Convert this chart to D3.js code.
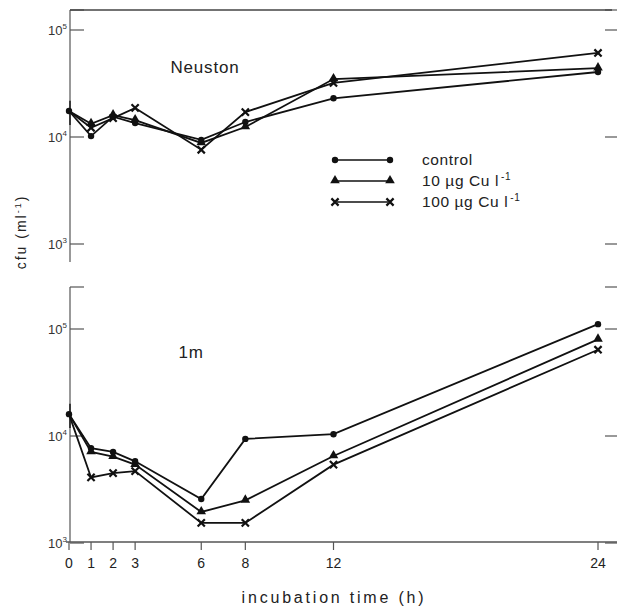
<!doctype html>
<html lang="en">
<head>
    <meta charset="utf-8">
    <title>cfu incubation</title>
    <style>
        body { margin: 0; background: #fff; }
        svg { display: block; }
        text { font-family: "Liberation Sans", Arial, sans-serif; fill: #222; }
    </style>
</head>
<body>
<svg width="617" height="609"></svg>
<script src="https://d3js.org/d3.v7.min.js"></script>
<script>
    // hours of incubation
    var hours = [0, 1, 2, 3, 6, 8, 12, 24];
    var xTicks = [0, 1, 2, 3, 6, 8, 12, 24];
    var yTicks = [1e3, 1e4, 1e5];
    var seriesNames = ["control", "10 µg Cu l", "100 µg Cu l"];

    // Neuston (cfu per ml)
    var neustonControl = [17500, 10200, 15500, 13500, 9400, 13800, 23000, 40500];
    var neuston10 = [17500, 13300, 16000, 14400, 8800, 12400, 34800, 44000];
    var neuston100 = [17500, 12200, 15000, 18700, 7600, 17100, 32000, 61000];

    // 1 m depth (cfu per ml)
    var m1Control = [16000, 7700, 7100, 5800, 2580, 9400, 10400, 111000];
    var m1_10 = [16000, 7100, 6400, 5400, 1950, 2500, 6500, 80000];
    var m1_100 = [16000, 4100, 4500, 4700, 1540, 1540, 5400, 64000];

    var svg = d3.select("svg");
    var x = d3.scaleLinear().domain([0, 24]).range([69, 598]);

    var panels = [
        { label: "Neuston", lx: 205, ly: 73, top: 10, bottom: 262, y10k: 137,
          data: [neustonControl, neuston10, neuston100] },
        { label: "1m", lx: 191, ly: 358, top: 287, bottom: 542, y10k: 436,
          data: [m1Control, m1_10, m1_100] }
    ];

    var decade = 107;
    var axisX = 70;

    function marker(g, kind, cx, cy) {
        if (kind === 0) {
            g.append("circle").attr("cx", cx).attr("cy", cy).attr("r", 3.2).attr("fill", "#111");
        } else if (kind === 1) {
            g.append("path")
                .attr("d", d3.symbol().type(d3.symbolTriangle).size(40)())
                .attr("transform", "translate(" + cx + "," + (cy - 0.5) + ")")
                .attr("fill", "#111");
        } else {
            var s = 3.6;
            g.append("path")
                .attr("d", "M" + (cx - s) + "," + (cy - s) + "L" + (cx + s) + "," + (cy + s) +
                    "M" + (cx - s) + "," + (cy + s) + "L" + (cx + s) + "," + (cy - s))
                .attr("stroke", "#111").attr("stroke-width", 2.2);
        }
    }

    function powLabel(g, xx, yy, exp) {
        var t = g.append("text").attr("x", xx).attr("y", yy).attr("font-size", 13)
            .attr("text-anchor", "end").style("fill", "#333");
        t.append("tspan").text("10");
        t.append("tspan").attr("font-size", 8).attr("dy", -6).text(exp);
    }

    panels.forEach(function(p, pi) {
        var y = d3.scaleLog().domain([1e3, 1e5])
            .range([p.y10k + decade, p.y10k - decade]);
        var g = svg.append("g");

        // left axis
        g.append("line").attr("x1", axisX).attr("x2", axisX)
            .attr("y1", p.top).attr("y2", p.bottom)
            .attr("stroke", "#555").attr("stroke-width", 1.2);
        // top end ticks
        g.append("line").attr("x1", axisX).attr("x2", axisX + 14)
            .attr("y1", p.top).attr("y2", p.top)
            .attr("stroke", "#555").attr("stroke-width", 1.2);
        g.append("line").attr("x1", 605).attr("x2", 617)
            .attr("y1", p.top).attr("y2", p.top)
            .attr("stroke", "#555").attr("stroke-width", 1.2);

        yTicks.forEach(function(v, i) {
            var yy = y(v);
            g.append("line").attr("x1", axisX).attr("x2", axisX + 14)
                .attr("y1", yy).attr("y2", yy)
                .attr("stroke", "#555").attr("stroke-width", 1.2);
            g.append("line").attr("x1", 605).attr("x2", 617)
                .attr("y1", yy).attr("y2", yy)
                .attr("stroke", "#555").attr("stroke-width", 1.2);
            powLabel(g, axisX - 3, yy + 5, String(3 + i));
        });

        g.append("text").attr("x", p.lx).attr("y", p.ly)
            .attr("text-anchor", "middle").attr("font-size", 17)
            .attr("letter-spacing", 0.8).text(p.label);

        var line = d3.line()
            .x(function(d, i) { return x(hours[i]); })
            .y(function(d) { return y(d); });

        p.data.forEach(function(vals, k) {
            g.append("path").datum(vals)
                .attr("d", line)
                .attr("fill", "none")
                .attr("stroke", "#111")
                .attr("stroke-width", 1.8);
        });
        p.data.forEach(function(vals, k) {
            vals.forEach(function(v, i) {
                if (i === 0 && k > 0) return;
                marker(g, k, x(hours[i]), y(v));
            });
        });
        // error bar at t = 0
        var v0 = p.data[0][0];
        g.append("line").attr("x1", x(0) + 1).attr("x2", x(0) + 1)
            .attr("y1", y(v0 * 1.25)).attr("y2", y(v0 / 1.35))
            .attr("stroke", "#111").attr("stroke-width", 1.4);
    });

    // top frame line
    svg.append("line").attr("x1", axisX).attr("x2", 612)
        .attr("y1", 10).attr("y2", 10)
        .attr("stroke", "#444").attr("stroke-width", 1.4);

    // x axis
    var xa = svg.append("g");
    xa.append("line").attr("x1", axisX - 4).attr("x2", 617)
        .attr("y1", 542).attr("y2", 542)
        .attr("stroke", "#555").attr("stroke-width", 1.3);
    xTicks.forEach(function(h) {
        xa.append("line").attr("x1", x(h)).attr("x2", x(h))
            .attr("y1", 542).attr("y2", 550)
            .attr("stroke", "#555").attr("stroke-width", 1.2);
        xa.append("text").attr("x", x(h)).attr("y", 568)
            .attr("text-anchor", "middle").attr("font-size", 14).text(h);
    });
    xa.append("text").attr("x", 334).attr("y", 603)
        .attr("text-anchor", "middle").attr("font-size", 16)
        .attr("letter-spacing", 2.8).text("incubation time (h)");

    // y label
    var yl = svg.append("text")
        .attr("transform", "translate(26,232) rotate(-90)")
        .attr("text-anchor", "middle").attr("font-size", 14)
        .attr("letter-spacing", 2);
    yl.append("tspan").text("cfu   (ml");
    yl.append("tspan").attr("font-size", 9).attr("dy", -5).text("-1");
    yl.append("tspan").attr("dy", 5).text(")");

    // legend
    var lg = svg.append("g");
    seriesNames.forEach(function(name, k) {
        var ly = 160 + k * 21;
        lg.append("line").attr("x1", 337).attr("x2", 388)
            .attr("y1", ly).attr("y2", ly)
            .attr("stroke", "#111").attr("stroke-width", 1.5);
        marker(lg, k, 335, ly);
        marker(lg, k, 390, ly);
        var t = lg.append("text").attr("x", 422).attr("y", ly + 5)
            .attr("font-size", 15.5).attr("letter-spacing", 0.6);
        t.append("tspan").text(name);
        if (k > 0) {
            t.append("tspan").attr("font-size", 10).attr("dy", -6).attr("dx", 2).text("-1");
        }
    });
</script>
</body>
</html>
